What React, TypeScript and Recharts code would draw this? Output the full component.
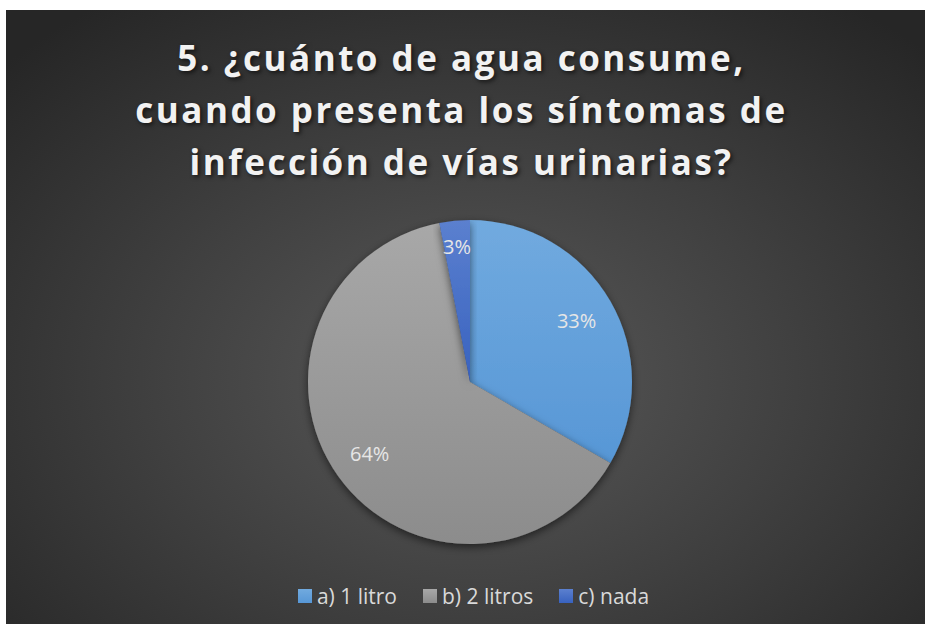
import React from 'react';
import { PieChart, Pie, Cell, Legend } from 'recharts';

const categories = ['a) 1 litro', 'b) 2 litros', 'c) nada'];
const values = [11, 21, 1];
const colorsTop = ['#71aadf', '#a8a8a8', '#5b80cf'];
const colorsBottom = ['#5797d6', '#8c8c8c', '#3862bf'];

const data = categories.map((name, i) => ({ name, value: values[i] }));
const total = values.reduce((a, b) => a + b, 0);

const W = 919;
const H = 614;
const CX = 459;
const CY = 367;
const R = 162;
const RAD = Math.PI / 180;

const renderLabel = (props: any) => {
  const { midAngle, value, cx, cy } = props;
  const pct = value / total;
  const f = pct < 0.05 ? 0.84 : 0.76;
  const x = cx + R * f * Math.cos(-midAngle * RAD);
  const y = cy + R * f * Math.sin(-midAngle * RAD);
  return (
    <text
      x={x}
      y={y}
      fill="#e6e6e6"
      fontSize={20}
      fontFamily="'Open Sans', 'Noto Sans', sans-serif"
      textAnchor="middle"
      dominantBaseline="central"
    >
      {Math.round(pct * 100) + '%'}
    </text>
  );
};

const renderLegend = () => (
  <div
    style={{
      display: 'flex',
      justifyContent: 'center',
      gap: 26,
      fontFamily: "'Open Sans', 'Noto Sans', sans-serif",
      fontSize: 21,
      color: '#d9d9d9',
    }}
  >
    {categories.map((c, i) => (
      <div key={c} style={{ display: 'flex', alignItems: 'center' }}>
        <span
          style={{
            display: 'inline-block',
            width: 14,
            height: 14,
            background: `linear-gradient(${colorsTop[i]}, ${colorsBottom[i]})`,
            marginRight: 5,
          }}
        />
        <span>{c}</span>
      </div>
    ))}
  </div>
);

export default function App() {
  return (
    <div style={{ position: 'absolute', left: 0, top: 0, width: 927, height: 627, background: '#ffffff' }}>
      <div
        style={{
          position: 'absolute',
          left: 6,
          top: 10,
          width: W,
          height: H,
          background: 'radial-gradient(ellipse 70% 75% at 51% 60%, #595959 0%, #404040 50%, #262626 100%)',
          overflow: 'hidden',
        }}
      >
        <div
          style={{
            position: 'absolute',
            left: 0,
            top: 22,
            width: W - 8,
            textAlign: 'center',
            color: '#f2f2f2',
            fontFamily: "'Open Sans', 'Noto Sans', sans-serif",
            fontWeight: 700,
            fontSize: 35,
            lineHeight: '52px',
            letterSpacing: 2.5,
            textShadow: '2px 2px 4px rgba(0,0,0,0.6)',
          }}
        >
          5. ¿cuánto de agua consume,
          <br />
          cuando presenta los síntomas de
          <br />
          infección de vías urinarias?
        </div>
        <div style={{ position: 'absolute', left: 0, top: 0 }}>
          <PieChart width={W} height={H}>
            <defs>
              {categories.map((c, i) => (
                <linearGradient key={c} id={`g${i}`} x1="0" y1="0" x2="0" y2="1">
                  <stop offset="0%" stopColor={colorsTop[i]} />
                  <stop offset="100%" stopColor={colorsBottom[i]} />
                </linearGradient>
              ))}
              <filter id="shadow" x="-20%" y="-20%" width="140%" height="140%">
                <feDropShadow dx="0" dy="3" stdDeviation="4" floodColor="#000" floodOpacity="0.55" />
              </filter>
            </defs>
            <Pie
              data={data}
              dataKey="value"
              nameKey="name"
              cx={CX}
              cy={CY}
              outerRadius={R}
              startAngle={90}
              endAngle={-270}
              stroke="none"
              label={renderLabel}
              labelLine={false}
              isAnimationActive={false}
              filter="url(#shadow)"
            >
              {data.map((d, i) => (
                <Cell key={d.name} fill={`url(#g${i})`} />
              ))}
            </Pie>
            <Legend
              content={renderLegend}
              wrapperStyle={{ position: 'absolute', left: 8, top: 572, width: W }}
            />
          </PieChart>
        </div>
      </div>
    </div>
  );
}
